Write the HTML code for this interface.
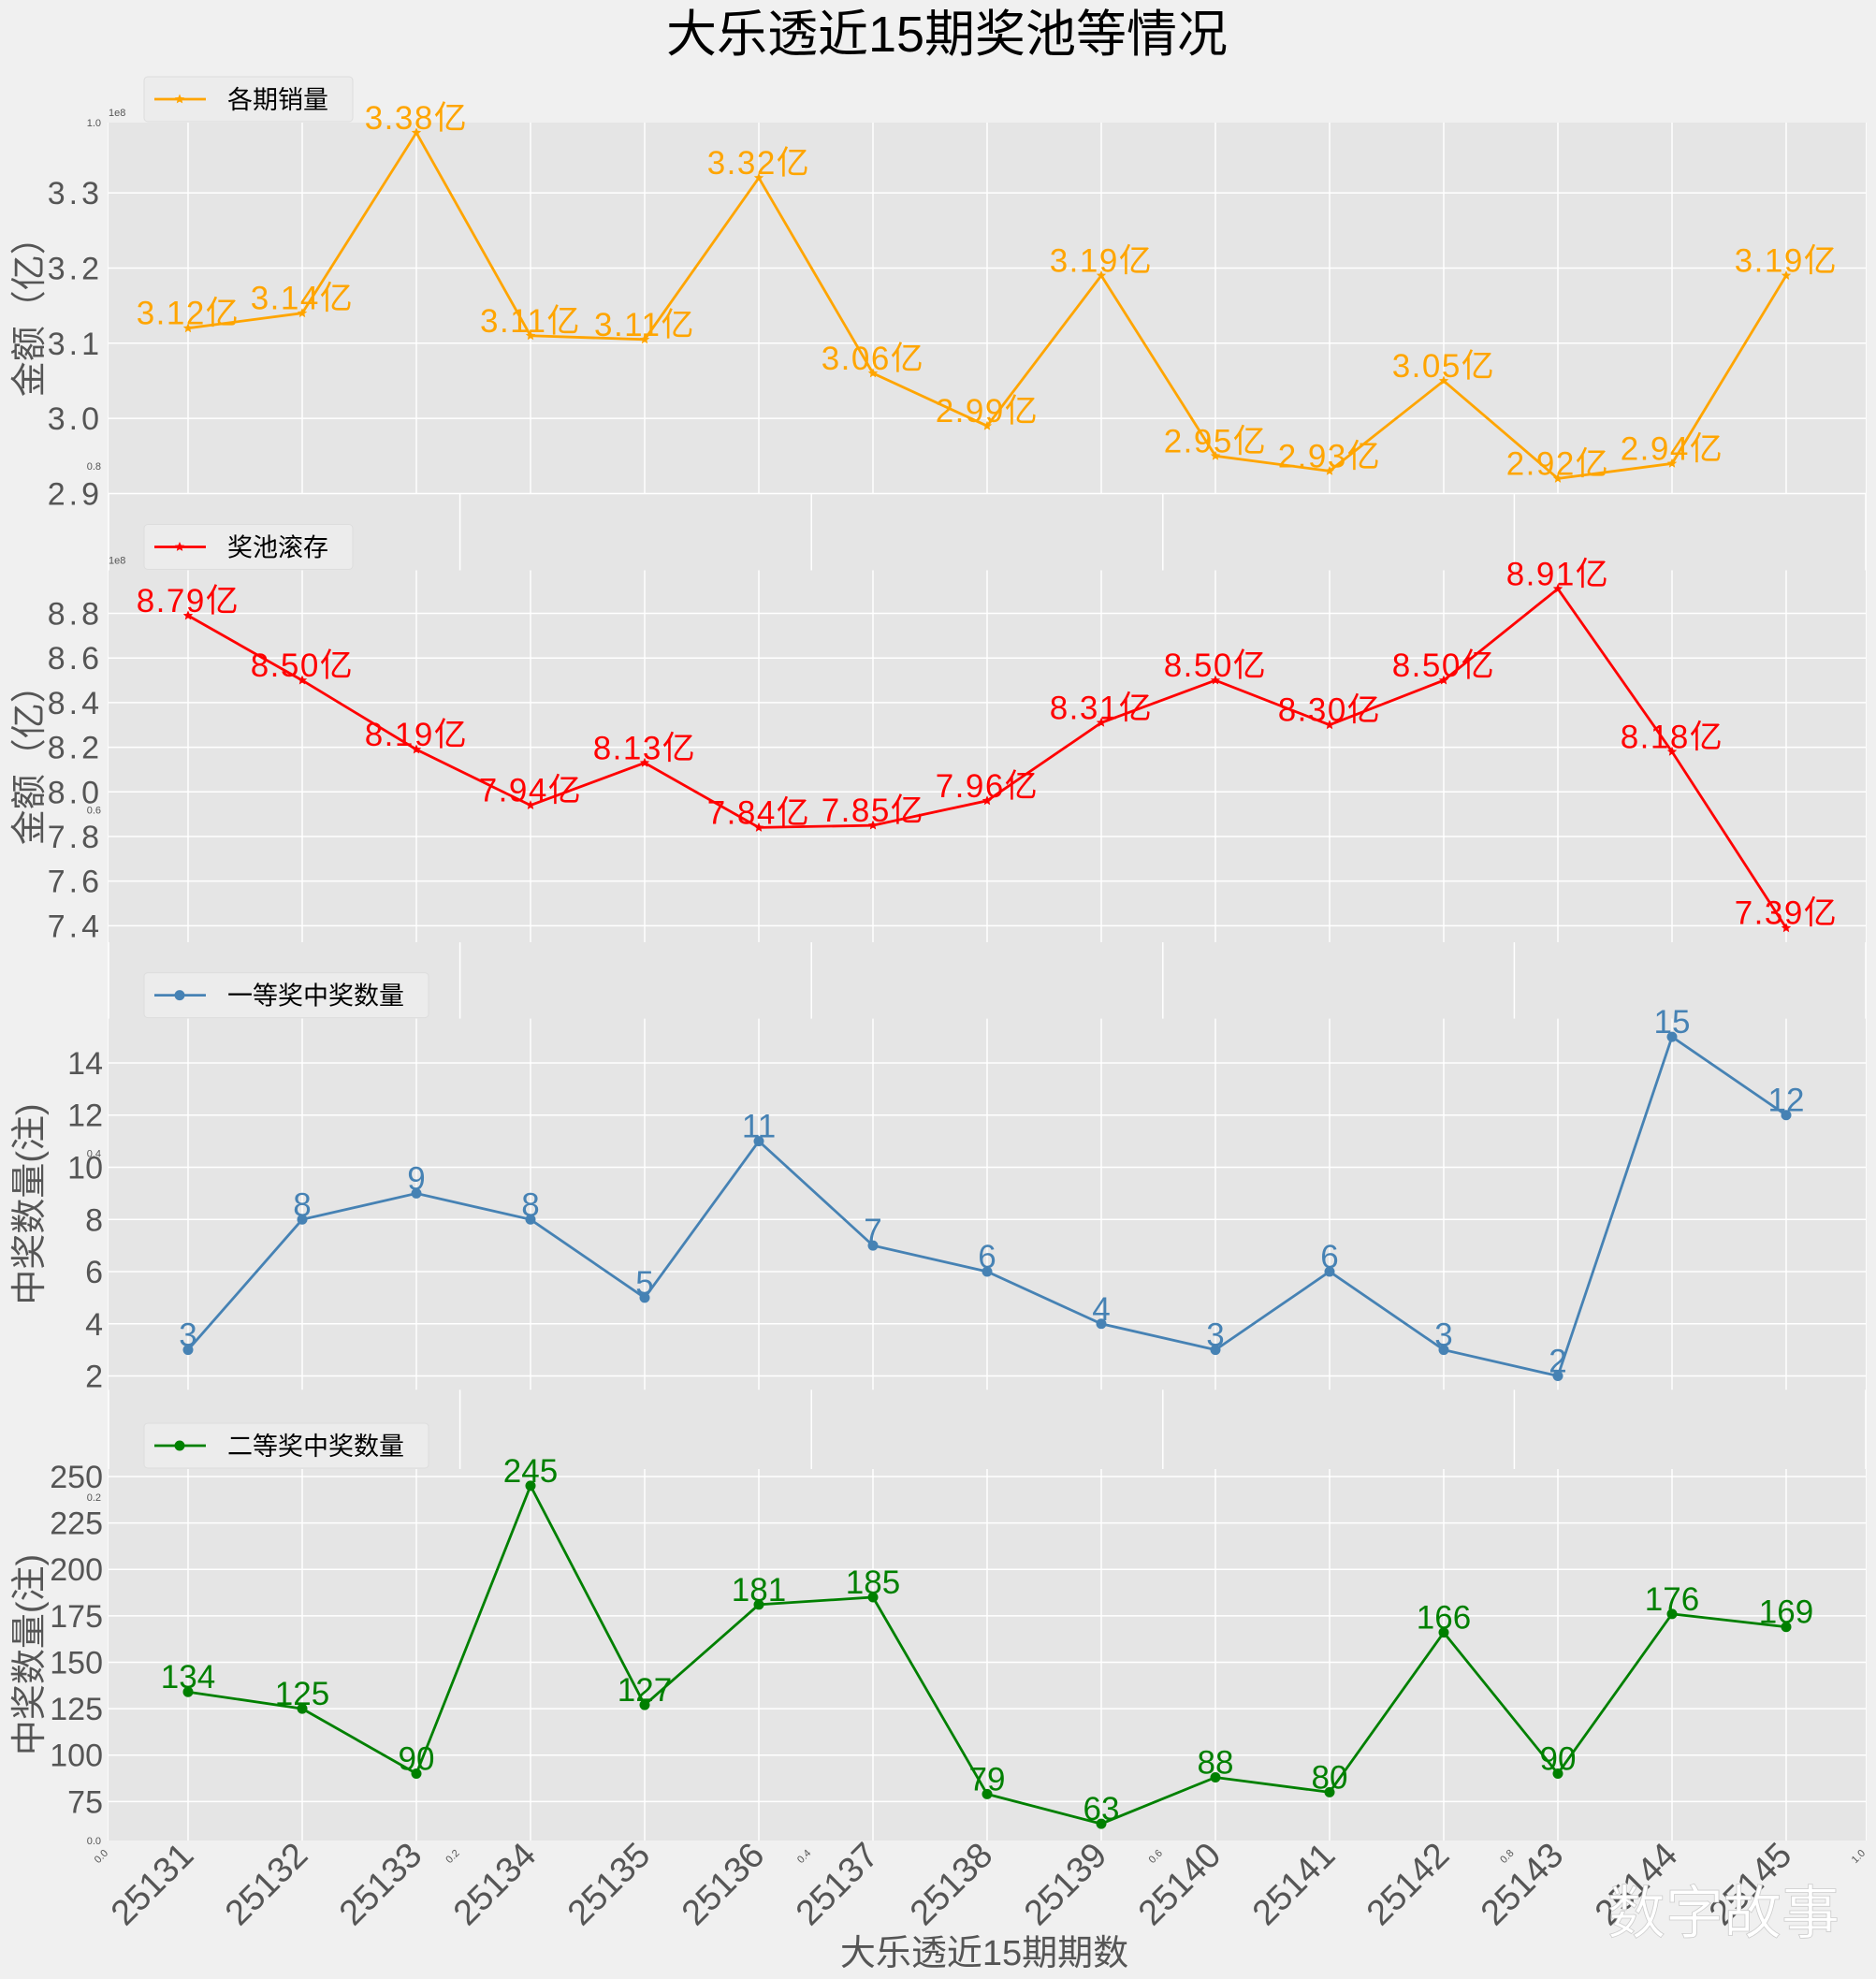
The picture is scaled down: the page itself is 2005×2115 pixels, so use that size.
<!DOCTYPE html>
<html><head><meta charset="utf-8">
<style>
html,body{margin:0;padding:0;background:#f0f0f0;}
svg{display:block;font-family:"Liberation Sans","Noto Sans CJK SC",sans-serif;}
</style></head>
<body>
<svg id="chart" width="2005" height="2115" viewBox="0 0 2005 2115" xmlns="http://www.w3.org/2000/svg">
<rect x="0" y="0" width="2005" height="2115" fill="#f0f0f0"/>
<text x="1012" y="55" text-anchor="middle" font-size="54" fill="#000" font-family="Liberation Sans, Noto Sans CJK SC, sans-serif">大乐透近15期奖池等情况</text>
<text x="1052" y="2100" text-anchor="middle" font-size="38" fill="#555">大乐透近15期期数</text>
<g id="bg"></g>
<g id="panels"></g>
<g id="xticks"></g>
<text x="1842" y="2066" text-anchor="middle" font-size="62" fill="#fff" stroke="#ccc" stroke-width="0.8">数字故事</text>
</svg>
<script>
const categories = ["25131","25132","25133","25134","25135","25136","25137","25138","25139","25140","25141","25142","25143","25144","25145"];
const salesValues = [3.12,3.14,3.38,3.11,3.105,3.32,3.06,2.99,3.19,2.95,2.93,3.05,2.92,2.94,3.19];
const salesLabels = ["3.12亿","3.14亿","3.38亿","3.11亿","3.11亿","3.32亿","3.06亿","2.99亿","3.19亿","2.95亿","2.93亿","3.05亿","2.92亿","2.94亿","3.19亿"];
const poolValues = [8.79,8.50,8.19,7.94,8.13,7.84,7.85,7.96,8.31,8.50,8.30,8.50,8.91,8.18,7.39];
const poolLabels = ["8.79亿","8.50亿","8.19亿","7.94亿","8.13亿","7.84亿","7.85亿","7.96亿","8.31亿","8.50亿","8.30亿","8.50亿","8.91亿","8.18亿","7.39亿"];
const firstValues = [3,8,9,8,5,11,7,6,4,3,6,3,2,15,12];
const secondValues = [134,125,90,245,127,181,185,79,63,88,80,166,90,176,169];
const salesTicks = [2.9,3.0,3.1,3.2,3.3];
const poolTicks = [7.4,7.6,7.8,8.0,8.2,8.4,8.6,8.8];
const firstTicks = [2,4,6,8,10,12,14];
const secondTicks = [75,100,125,150,175,200,225,250];
const bgTicks = [0.0,0.2,0.4,0.6,0.8,1.0];

const NS="http://www.w3.org/2000/svg";
const svg=document.getElementById('chart');
function mk(tag,attrs,parent){const e=document.createElementNS(NS,tag);for(const k in attrs)e.setAttribute(k,attrs[k]);parent.appendChild(e);return e;}

const L=116,R=1994;
const x0=201, x1=1909;
function xs(i){return x0+(x1-x0)*i/(categories.length-1);}

// background axes
const bg=document.getElementById('bg');
const BT=131,BB=1967;
const bgr=mk('rect',{x:L,y:BT,width:R-L,height:BB-BT,fill:'#e5e5e5'},bg);


bgTicks.forEach(t=>{
  const gx=L+(R-L)*t;
  const l=mk('line',{x1:gx,x2:gx,y1:BT,y2:BB,stroke:'#fff','stroke-width':1.5},bg);
  
  
  const gy=BB-(BB-BT)*t;
  const ty=mk('text',{x:L-8,y:gy+4,'text-anchor':'end','font-size':11,fill:'#555'},bg);
  ty.textContent=t.toFixed(1);
  
  
  const tx=mk('text',{x:gx,y:BB+14,'text-anchor':'end','font-size':11,fill:'#555',transform:`rotate(-45 ${gx} ${BB+14})`},bg);
  tx.textContent=t.toFixed(1);
  
  
});

const panels=[
 {name:'sales',top:131,bottom:527.5,min:2.9,max:3.3935,ticks:salesTicks,vals:salesValues,labels:salesLabels,color:'#FFA500',marker:'star',legend:'各期销量',ylabel:'金额（亿）',fmt:v=>v.toFixed(1),off:true},
 {name:'pool',top:609.5,bottom:1007,min:7.326,max:8.993,ticks:poolTicks,vals:poolValues,labels:poolLabels,color:'#FF0000',marker:'star',legend:'奖池滚存',ylabel:'金额（亿）',fmt:v=>v.toFixed(1),off:true},
 {name:'first-prize',top:1088.6,bottom:1485.3,min:1.47,max:15.7,ticks:firstTicks,vals:firstValues,labels:firstValues.map(String),color:'#4682B4',marker:'circle',legend:'一等奖中奖数量',ylabel:'中奖数量(注)',fmt:v=>String(v)},
 {name:'second-prize',top:1570,bottom:1967,min:54,max:254,ticks:secondTicks,vals:secondValues,labels:secondValues.map(String),color:'#008000',marker:'circle',legend:'二等奖中奖数量',ylabel:'中奖数量(注)',fmt:v=>String(v)}
];
const pg=document.getElementById('panels');
function star(g,cx,cy,r,c){
  let p=[];for(let k=0;k<10;k++){const a=-Math.PI/2+k*Math.PI/5;const rr=k%2?r*0.45:r;p.push((cx+rr*Math.cos(a)).toFixed(1)+','+(cy+rr*Math.sin(a)).toFixed(1));}
  return mk('polygon',{points:p.join(' '),fill:c},g);
}
panels.forEach(P=>{
  const g=mk('g',{},pg);
  
  
  const ys=v=>P.bottom-(v-P.min)/(P.max-P.min)*(P.bottom-P.top);
  const r=mk('rect',{x:L,y:P.top,width:R-L,height:P.bottom-P.top,fill:'#e5e5e5'},g);
  
  
  P.ticks.forEach(t=>{
    const y=ys(t);
    const l=mk('line',{x1:L,x2:R,y1:y,y2:y,stroke:'#fff','stroke-width':1.5},g);
    
    
    const tt=mk('text',{x:L-6,y:y+12,'text-anchor':'end','font-size':34,fill:'#555','letter-spacing':P.off?4:0},g);
    tt.textContent=P.fmt(t);
    
    
  });
  categories.forEach((c,i)=>{
    const l=mk('line',{x1:xs(i),x2:xs(i),y1:P.top,y2:P.bottom,stroke:'#fff','stroke-width':1.5},g);
    
    
  });
  if(P.off){
    const o=mk('text',{x:L,y:P.top-7,'font-size':11,fill:'#555'},g);o.textContent='1e8';
    
    
  }
  const yl=ys((P.min+P.max)/2);
  const yt=mk('text',{x:44,y:yl,'text-anchor':'middle','font-size':38,fill:'#555',transform:`rotate(-90 44 ${yl})`},g);
  yt.textContent=P.ylabel;
  
  
  const pts=P.vals.map((v,i)=>xs(i).toFixed(1)+','+ys(v).toFixed(1)).join(' ');
  const pl=mk('polyline',{points:pts,fill:'none',stroke:P.color,'stroke-width':2.8},g);
  
  
  P.vals.forEach((v,i)=>{
    const cx=xs(i),cy=ys(v);
    let m;
    if(P.marker==='star')m=star(g,cx,cy,5.5,P.color);else m=mk('circle',{cx:cx,cy:cy,r:5.5,fill:P.color},g);
    
    
    const t=mk('text',{x:cx,y:cy-4,'text-anchor':'middle','font-size':35,fill:P.color,'letter-spacing':P.off?1.5:0},g);
    t.textContent=P.labels[i];
    
    
  });
  // legend
  const lg=mk('g',{},g);
  
  
  const w=P.legend.length*27+115;
  mk('rect',{x:154,y:P.top-49,width:w,height:48,rx:4,fill:'#ececec',stroke:'#ddd'},lg);
  const ly=P.top-25;
  mk('line',{x1:165,x2:220,y1:ly,y2:ly,stroke:P.color,'stroke-width':2.8},lg);
  if(P.marker==='star')star(lg,192,ly,5.5,P.color);else mk('circle',{cx:192,cy:ly,r:5.5,fill:P.color},lg);
  const lt=mk('text',{x:243,y:ly+10,'font-size':27,fill:'#000'},lg);
  lt.textContent=P.legend;
  
  
});
const xt=document.getElementById('xticks');
categories.forEach((c,i)=>{
  const x=xs(i)+8,y=1985;
  const t=mk('text',{x:x,y:y,'text-anchor':'end','font-size':38,fill:'#555',transform:`rotate(-45 ${x} ${y})`},xt);
  t.textContent=c;
  
  
});
</script>
</body></html>
